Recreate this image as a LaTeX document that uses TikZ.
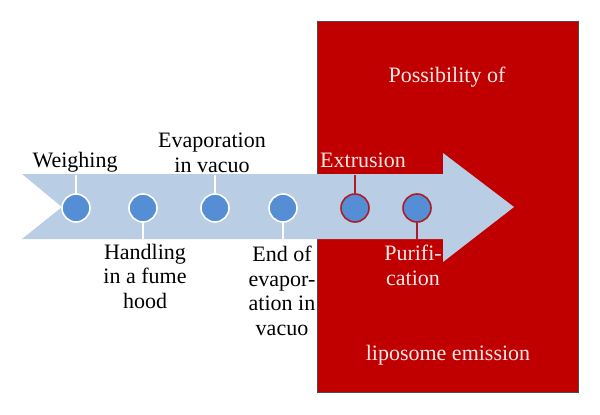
\documentclass[tikz,border=0pt]{standalone}
\usepackage{fontspec}
\setmainfont{Liberation Serif}
\definecolor{boxred}{RGB}{192,0,0}
\definecolor{arrowblue}{RGB}{185,205,229}
\definecolor{dotblue}{RGB}{85,142,213}
\definecolor{ringred}{RGB}{170,30,40}
\definecolor{lighttext}{RGB}{250,232,232}
\begin{document}
\begin{tikzpicture}[x=1pt,y=-1pt,
  lbl/.style={inner sep=0pt,align=center,font=\fontsize{22}{24.5}\selectfont,anchor=base},
  wlbl/.style={lbl,text=lighttext},
  dot/.style={circle,fill=dotblue,draw=white,line width=1.6pt,minimum size=28pt,inner sep=0pt},
  rdot/.style={dot,draw=ringred},
  stem/.style={draw=white,line width=1.2pt},
  rstem/.style={draw=ringred,line width=1.6pt}]
\useasboundingbox (0,0) rectangle (600,415);
\fill[white] (0,0) rectangle (600,415);
% red box
\node[draw=black!70,fill=boxred,line width=0.8pt,minimum width=261pt,minimum height=371pt,anchor=north west,inner sep=0pt] (box) at (317,21) {};
% arrow
\fill[arrowblue] (22,174) -- (443,174) -- (443,153) -- (514,207) -- (443,262) -- (443,239) -- (22,239) -- (62,207) -- cycle;
% stems end points
\coordinate (t1) at (76,175);
\coordinate (t2) at (143,239);
\coordinate (t3) at (215,175);
\coordinate (t4) at (283,239);
\coordinate (t5) at (355,175);
\coordinate (t6) at (417,240);
% circles
\node[dot] (c1) at (76,208) {};
\node[dot] (c2) at (143,208) {};
\node[dot] (c3) at (215,208) {};
\node[dot] (c4) at (283,208) {};
\node[rdot] (c5) at (355,208) {};
\node[rdot] (c6) at (417,208) {};
\draw[stem] (c1.north) -- (t1);
\draw[stem] (c2.south) -- (t2);
\draw[stem] (c3.north) -- (t3);
\draw[stem] (c4.south) -- (t4);
\draw[rstem] (c5.north) -- (t5);
\draw[rstem] (c6.south) -- (t6);
% labels (anchor = baseline of the last line)
\node[lbl] (l1) at (75,167) {Weighing};
\node[lbl] (l2) at (145,308) {Handling\\in a fume\\hood};
\node[lbl] (l3) at (212,172) {Evaporation\\in vacuo};
\node[lbl] (l4) at (282,335) {End of\\evapor-\\ation in\\vacuo};
\node[wlbl] (l5) at (363,167) {Extrusion};
\node[wlbl] (l6) at (413,285) {Purifi-\\cation};
\node[wlbl] (p1) at (447,82) {Possibility of};
\node[wlbl] (p2) at (448,360) {liposome emission};
\end{tikzpicture}
\end{document}
